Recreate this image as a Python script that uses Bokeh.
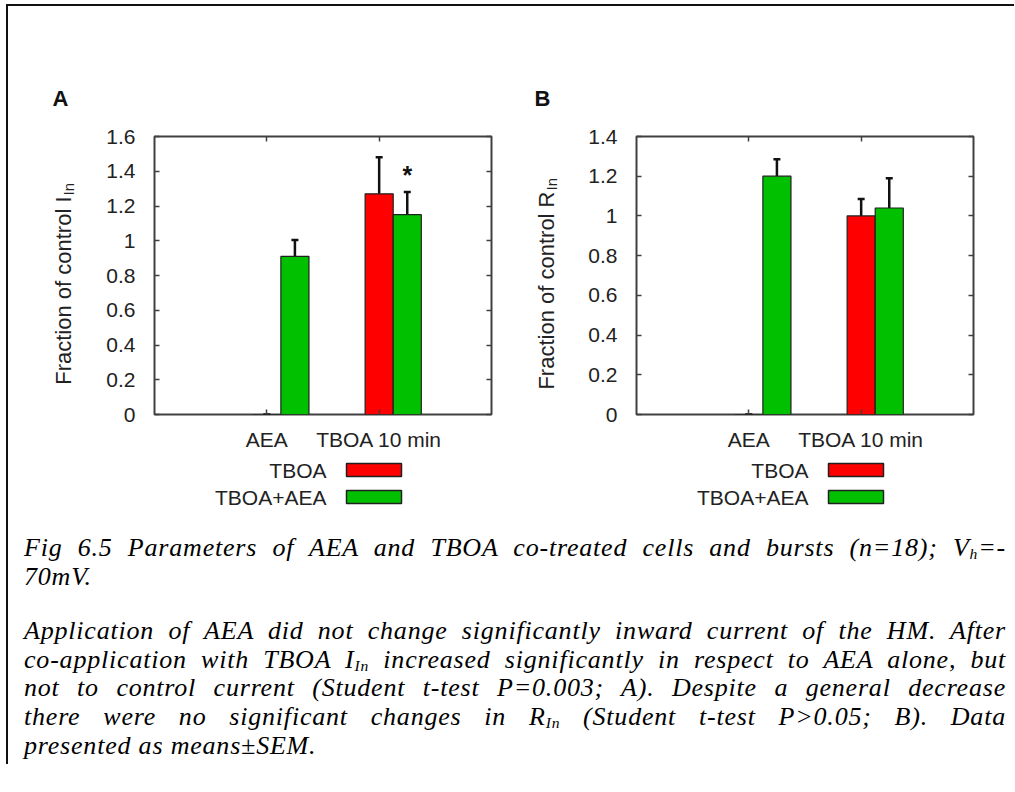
import math
from bokeh.plotting import figure
from bokeh.models import (Range1d, FactorRange, LinearAxis, CategoricalAxis, FixedTicker,
                          Div, ColumnDataSource, Whisker, TeeHead, CustomJSTickFormatter)
from bokeh.layouts import column, row
from bokeh.embed import file_html
from bokeh.resources import INLINE
from bokeh.core.properties import value
from bokeh.transform import dodge

# ---------------- data ----------------
groups = ["AEA", "TBOA 10 min"]
series = ["TBOA", "TBOA+AEA"]
colors = ["#ff0000", "#00c000"]

a_tboa = [0.0, 1.27]
a_tboa_err = [0.0, 0.21]
a_combo = [0.91, 1.15]
a_combo_err = [0.095, 0.13]
a_ticks = [0, 0.2, 0.4, 0.6, 0.8, 1, 1.2, 1.4, 1.6]
a_ymax = 1.6
a_ylabel = "Fraction of control I"
a_sig = ["", "*"]

b_tboa = [0.0, 1.0]
b_tboa_err = [0.0, 0.085]
b_combo = [1.2, 1.04]
b_combo_err = [0.085, 0.15]
b_ticks = [0, 0.2, 0.4, 0.6, 0.8, 1, 1.2, 1.4]
b_ymax = 1.4
b_ylabel = "Fraction of control R"
b_sig = ["", ""]

SANS = "Liberation Sans"
TXT = "#222222"
FS = "21px"

TOP = 6          # inner top of page border
ROW_H = 452
FRAME_TOP, FRAME_BOTTOM = 136, 414   # page pixels of the plot frame
MB_TOP = FRAME_TOP - TOP
MB_BOTTOM = TOP + ROW_H - FRAME_BOTTOM


def chart(tboa, tboa_err, combo, combo_err, ticks, ymax, sig, left, frame_w):
    p = figure(width=left + frame_w + 9, height=ROW_H,
               x_range=FactorRange(*groups, range_padding=0.5, range_padding_units="absolute"),
               y_range=Range1d(0, ymax),
               min_border_left=left, min_border_right=9, min_border_top=MB_TOP,
               min_border_bottom=MB_BOTTOM,
               toolbar_location=None, output_backend="svg")
    p.grid.visible = False
    p.outline_line_color = "#404040"
    p.outline_line_width = 2
    p.background_fill_color = None
    p.border_fill_color = None

    src = ColumnDataSource(dict(g=groups, t=tboa, te=[a + b for a, b in zip(tboa, tboa_err)],
                                c=combo, ce=[a + b for a, b in zip(combo, combo_err)],
                                sig=sig, sy=[a + b + 0.1 for a, b in zip(combo, combo_err)]))
    p.vbar(x=dodge("g", 0.0, range=p.x_range), top="t", width=0.25, source=src,
           fill_color=colors[0], line_color="#202020", line_width=1.2)
    p.vbar(x=dodge("g", 0.25, range=p.x_range), top="c", width=0.25, source=src,
           fill_color=colors[1], line_color="#202020", line_width=1.2)
    for off, lo, hi in [(0.0, "t", "te"), (0.25, "c", "ce")]:
        w = Whisker(base=dodge("g", off, range=p.x_range), lower=lo, upper=hi, source=src,
                    dimension="height", line_width=2.5, line_color="#111111",
                    upper_head=TeeHead(size=7, line_width=2.5, line_color="#111111"),
                    lower_head=None)
        p.add_layout(w)
    p.text(x=dodge("g", 0.25, range=p.x_range), y="sy", text="sig", source=src,
           text_align="center", text_baseline="middle",
           text_font=value(SANS), text_font_size=value("25px"), text_font_style="bold",
           text_color="#111111")

    fmt = CustomJSTickFormatter(code="return tick.toString();")
    ya = p.yaxis[0]
    ya.ticker = FixedTicker(ticks=ticks)
    ya.formatter = fmt
    ya.major_tick_in = 5
    ya.major_tick_out = 0
    ya.minor_tick_line_color = None
    ya.axis_line_color = None
    ya.major_tick_line_color = "#404040"
    ya.major_tick_line_width = 1.5
    ya.major_label_standoff = 19
    ya.major_label_text_font = SANS
    ya.major_label_text_font_size = FS
    ya.major_label_text_color = TXT

    xa = p.xaxis[0]
    xa.major_tick_in = 5
    xa.major_tick_out = 0
    xa.axis_line_color = None
    xa.major_tick_line_color = "#404040"
    xa.major_tick_line_width = 1.5
    xa.major_label_standoff = 13
    xa.major_label_text_font = SANS
    xa.major_label_text_font_size = FS
    xa.major_label_text_color = TXT

    ra = LinearAxis(ticker=FixedTicker(ticks=ticks), formatter=fmt, major_tick_in=5, major_tick_out=0,
                    minor_tick_line_color=None, axis_line_color=None,
                    major_tick_line_color="#404040", major_tick_line_width=1.5,
                    major_label_text_font_size="1px", major_label_text_color=None,
                    major_label_standoff=0)
    p.add_layout(ra, "right")
    ta = CategoricalAxis(major_tick_in=5, major_tick_out=0, axis_line_color=None,
                         major_tick_line_color="#404040", major_tick_line_width=1.5,
                         major_label_text_font_size="1px", major_label_text_color=None,
                         major_label_standoff=0)
    p.add_layout(ta, "above")
    return p


def label_fig(x0, x1, letter, lx, ylabel, bx, pos):
    # frame aligned with the chart frame; y data units = page pixels
    p = figure(width=x1 - x0, height=ROW_H, x_range=Range1d(x0, x1),
               y_range=Range1d(FRAME_BOTTOM, FRAME_TOP),
               min_border_left=0, min_border_right=0, min_border_top=MB_TOP,
               min_border_bottom=MB_BOTTOM,
               x_axis_type=None, y_axis_type=None, toolbar_location=None, output_backend="svg")
    p.grid.visible = False
    p.outline_line_color = None
    p.background_fill_color = None
    p.border_fill_color = None
    p.title.text = letter
    p.title.align = "left"
    p.title.offset = lx - x0
    p.title.standoff = 51
    p.title.text_font = SANS
    p.title.text_font_size = "22px"
    p.title.text_font_style = "bold"
    p.title.text_color = "#111111"
    p.text(x=[bx], y=[pos], text=[ylabel], angle=math.pi / 2, text_align="right",
           text_baseline="alphabetic", text_font=value(SANS), text_font_size=value("22px"),
           text_color=TXT)
    p.text(x=[bx + 5], y=[pos - 1], text=["In"], angle=math.pi / 2, text_align="left",
           text_baseline="alphabetic", text_font=value(SANS), text_font_size=value("15px"),
           text_color=TXT)
    return p


labA = label_fig(8, 100, "A", 52, a_ylabel, 63, 196)
figA = chart(a_tboa, a_tboa_err, a_combo, a_combo_err, a_ticks, a_ymax, a_sig, 54, 337)
labB = label_fig(500, 585, "B", 534, b_ylabel, 546, 191)
figB = chart(b_tboa, b_tboa_err, b_combo, b_combo_err, b_ticks, b_ymax, b_sig, 51, 337)

# legend strip (pixel coordinates)
LG_TOP = TOP + ROW_H
LG_H = 54
leg = figure(width=1006, height=LG_H, x_range=Range1d(8, 1014), y_range=Range1d(LG_TOP + LG_H, LG_TOP),
             min_border=0, x_axis_type=None, y_axis_type=None, toolbar_location=None,
             output_backend="svg")
leg.grid.visible = False
leg.outline_line_color = None
leg.background_fill_color = None
leg.border_fill_color = None
for dx in [0, 482]:
    leg.text(x=[326 + dx, 326 + dx], y=[469.5, 496.5], text=series, text_align="right",
             text_baseline="middle", text_font=value(SANS), text_font_size=value(FS), text_color=TXT)
    leg.rect(x=[373.5 + dx, 373.5 + dx], y=[469.5, 496.5], width=55, height=13,
             fill_color=colors, line_color="#202020", line_width=1.5)

sub = '<span style="font-size:0.6em;position:relative;top:0.2em;line-height:0">{}</span>'
J = 'style="text-align:justify;text-align-last:justify"'
html = (
    '<div style="font-family:\'Liberation Serif\',serif;font-style:italic;font-size:26px;'
    'letter-spacing:0.8px;line-height:28.7px;color:#000;width:982px">'
    f'<div {J}>Fig 6.5 Parameters of AEA and TBOA co-treated cells and bursts (n=18); V{sub.format("h")}=-</div>'
    '<div>70mV.</div>'
    '<div style="height:25.6px"></div>'
    f'<div {J}>Application of AEA did not change significantly inward current of the HM. After</div>'
    f'<div {J}>co-application with TBOA I{sub.format("In")} increased significantly in respect to AEA alone, but</div>'
    f'<div {J}>not to control current (Student t-test P=0.003; A). Despite a general decrease</div>'
    f'<div {J}>there were no significant changes in R{sub.format("In")} (Student t-test P&gt;0.05; B). Data</div>'
    '<div>presented as means±SEM.</div>'
    '</div>'
)
caption = Div(text=html, width=982, height=230, margin=(22, 0, 0, 16))

root = column(row(labA, figA, labB, figB), leg, caption, margin=(4, 0, 0, 6),
              styles={"border-top": "2px solid #111", "border-left": "2px solid #111"})

open("out.html", "w").write(file_html(root, INLINE))
